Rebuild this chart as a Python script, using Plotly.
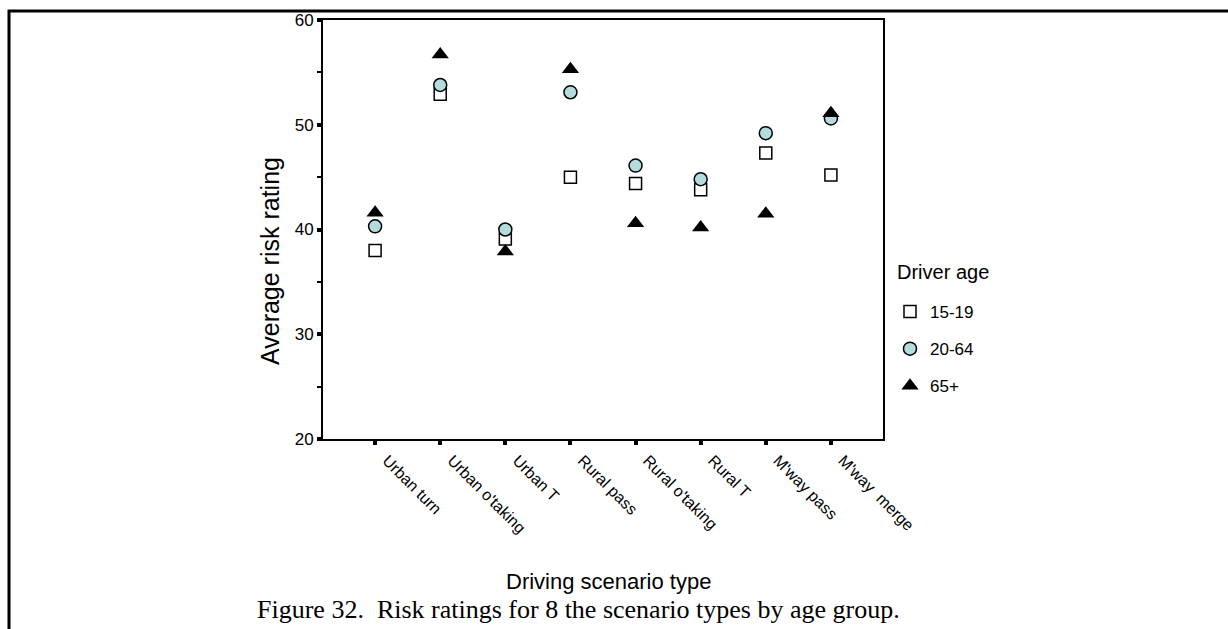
import plotly.graph_objects as go

categories = ["Urban turn", "Urban o'taking", "Urban T", "Rural pass",
              "Rural o'taking", "Rural T", "M'way pass", "M'way  merge"]
age_15_19 = [38.0, 52.9, 39.1, 45.0, 44.4, 43.8, 47.3, 45.2]
age_20_64 = [40.3, 53.8, 40.0, 53.1, 46.1, 44.8, 49.2, 50.6]
age_65p = [41.6, 56.7, 37.9, 55.3, 40.6, 40.2, 41.5, 51.1]
y_ticks = [20, 30, 40, 50, 60]

W, H = 1228, 629
L, R, T, B = 323, 883, 20, 439

fig = go.Figure()
fig.add_trace(go.Scatter(
    x=categories, y=age_15_19, mode="markers", name="15-19", legendgroup="a",
    marker=dict(symbol="square", size=12, color="white",
                line=dict(color="black", width=1.5))))
fig.add_trace(go.Scatter(
    x=categories, y=age_20_64, mode="markers", name="20-64", legendgroup="b",
    marker=dict(symbol="circle", size=13, color="#b4dcdc",
                line=dict(color="black", width=1.5))))
fig.add_trace(go.Scatter(
    x=categories, y=age_65p, mode="markers", name="65+", legendgroup="c",
    marker=dict(symbol="triangle-up", size=15, color="black",
                line=dict(color="black", width=0))))

def px_x(p):
    return (p - L) / (R - L)

def px_y(p):
    return (B - p) / (B - T)

fig.update_layout(
    width=W, height=H,
    margin=dict(l=L, r=W - R, t=T, b=H - B, pad=0),
    paper_bgcolor="white", plot_bgcolor="white",
    font=dict(family="Arial, Liberation Sans, sans-serif", color="black"),
    showlegend=True,
    legend=dict(
        x=px_x(890), y=px_y(294), xanchor="left", yanchor="top",
        font=dict(size=17), tracegroupgap=12, bgcolor="rgba(0,0,0,0)",
    ),
    xaxis=dict(
        type="category", categoryorder="array", categoryarray=categories,
        range=[-0.8, 7.8], showgrid=False, zeroline=False,
        showline=True, linecolor="black", linewidth=2, mirror=True,
        ticks="outside", ticklen=4, tickwidth=4, tickcolor="black",
        tickangle=45, tickfont=dict(size=16), ticklabelshift=12,
    ),
    yaxis=dict(
        range=[20, 60], tickvals=y_ticks, showgrid=False, zeroline=False,
        showline=True, linecolor="black", linewidth=2, mirror=True,
        ticks="outside", ticklen=4, tickwidth=4, tickcolor="black",
        tickfont=dict(size=17),
        minor=dict(ticks="outside", ticklen=4, tickwidth=1.5, tickcolor="black", dtick=5),
    ),
    annotations=[
        dict(text="Average risk rating", textangle=-90, xref="paper", yref="paper",
             x=px_x(270), y=px_y(261), showarrow=False, font=dict(size=25),
             xanchor="center", yanchor="middle"),
        dict(text="Driving scenario type", xref="paper", yref="paper",
             x=px_x(608), y=px_y(581), showarrow=False, font=dict(size=22),
             xanchor="center", yanchor="middle"),
        dict(text="Driver age", xref="paper", yref="paper",
             x=px_x(895), y=px_y(272), showarrow=False, font=dict(size=20),
             xanchor="left", yanchor="middle"),
        dict(text="Figure 32.  Risk ratings for 8 the scenario types by age group.",
             xref="paper", yref="paper", x=px_x(578), y=px_y(609), showarrow=False,
             font=dict(size=26, family="Liberation Serif, Times New Roman, serif"),
             xanchor="center", yanchor="middle"),
    ],
    shapes=[
        dict(type="rect", xref="paper", yref="paper",
             x0=px_x(9), x1=px_x(1300), y0=px_y(700), y1=px_y(11),
             line=dict(color="black", width=3), fillcolor="rgba(0,0,0,0)", layer="above"),
    ],
)

fig.write_html("out.html")
